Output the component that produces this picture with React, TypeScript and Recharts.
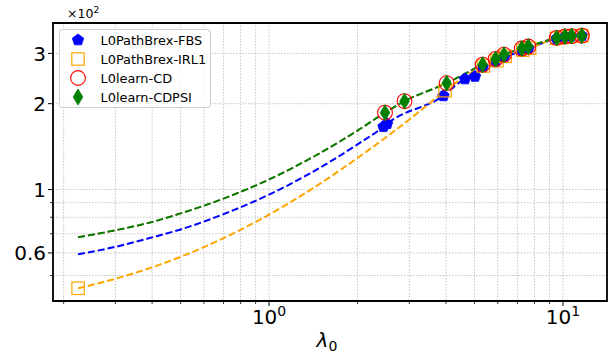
import React from 'react';
import {
  ComposedChart,
  Line,
  Scatter,
  XAxis,
  YAxis,
  CartesianGrid,
  Legend,
  ReferenceArea,
} from 'recharts';

const FONT = '"DejaVu Sans", "Liberation Sans", sans-serif';

// ---- series names ----
const SERIES_NAMES = ['L0PathBrex-FBS', 'L0PathBrex-IRL1', 'L0learn-CD', 'L0learn-CDPSI'];
const SERIES_COLORS = ['#0000ff', '#ffa500', '#ff0000', '#008000'];
const SERIES_LINE_WIDTHS = [2, 2, 1.4, 2];

// ---- dashed paths: λ0 and value (×10²) ----
const FBS_PATH_LAMBDA = [0.224, 0.3, 0.4, 0.5, 0.7, 1.0, 1.4, 2.0, 2.45, 2.52, 3.92, 4.64, 5.02, 5.33, 5.9, 6.3, 7.24, 7.62, 9.52, 10.16, 10.7, 11.6];
const FBS_PATH_VALUE = [0.593, 0.63, 0.68, 0.725, 0.82, 0.96, 1.15, 1.44, 1.66, 1.7, 2.13, 2.44, 2.49, 2.68, 2.8, 2.9, 3.06, 3.12, 3.38, 3.43, 3.45, 3.46];

const IRL1_PATH_LAMBDA = [0.224, 0.3, 0.4, 0.5, 0.7, 1.0, 1.4, 2.0, 2.5, 3.0, 3.5, 3.97, 5.36, 5.96, 6.36, 7.3, 7.7, 9.52, 10.16, 10.7, 11.6];
const IRL1_PATH_VALUE = [0.451, 0.487, 0.534, 0.581, 0.676, 0.817, 1.006, 1.29, 1.525, 1.76, 2.0, 2.22, 2.71, 2.83, 2.93, 3.08, 3.13, 3.39, 3.43, 3.45, 3.46];

const CD_PATH_LAMBDA = [0.224, 0.3, 0.4, 0.5, 0.7, 1.0, 1.4, 2.0, 2.48, 2.89, 4.02, 5.33, 5.9, 6.3, 7.24, 7.62, 9.52, 10.16, 10.7, 11.6];
const CD_PATH_VALUE = [0.681, 0.72, 0.77, 0.825, 0.93, 1.085, 1.295, 1.61, 1.86, 2.04, 2.36, 2.74, 2.87, 2.97, 3.12, 3.17, 3.4, 3.44, 3.45, 3.46];

const CDPSI_PATH_LAMBDA = [0.224, 0.3, 0.4, 0.5, 0.7, 1.0, 1.4, 2.0, 2.48, 2.89, 4.02, 5.33, 5.9, 6.3, 7.24, 7.62, 9.52, 10.16, 10.7, 11.6];
const CDPSI_PATH_VALUE = [0.681, 0.72, 0.77, 0.825, 0.93, 1.085, 1.295, 1.61, 1.86, 2.04, 2.36, 2.74, 2.87, 2.97, 3.12, 3.17, 3.4, 3.44, 3.45, 3.46];

// ---- markers ----
const FBS_MARK_LAMBDA = [2.45, 2.52, 3.92, 4.64, 5.02, 5.33, 5.9, 6.3, 7.24, 7.62, 9.52, 10.16, 10.7, 11.6];
const FBS_MARK_VALUE = [1.66, 1.7, 2.13, 2.44, 2.49, 2.68, 2.8, 2.9, 3.06, 3.12, 3.38, 3.43, 3.45, 3.46];

const IRL1_MARK_LAMBDA = [0.224, 3.97, 5.36, 5.96, 6.36, 7.3, 7.7, 9.52, 10.16, 10.7, 11.6];
const IRL1_MARK_VALUE = [0.451, 2.22, 2.71, 2.83, 2.93, 3.08, 3.13, 3.39, 3.43, 3.45, 3.46];

const CD_MARK_LAMBDA = [2.48, 2.89, 4.02, 5.33, 5.9, 6.3, 7.24, 7.62, 9.52, 10.16, 10.7, 11.6];
const CD_MARK_VALUE = [1.86, 2.04, 2.36, 2.74, 2.87, 2.97, 3.12, 3.17, 3.4, 3.44, 3.45, 3.46];

const CDPSI_MARK_LAMBDA = [2.48, 2.89, 4.02, 5.33, 5.9, 6.3, 7.24, 7.62, 9.52, 10.16, 10.7, 11.6];
const CDPSI_MARK_VALUE = [1.86, 2.04, 2.36, 2.74, 2.87, 2.97, 3.12, 3.17, 3.4, 3.44, 3.45, 3.46];

// ---- axes ----
const X_DOMAIN = [0.184, 14.12];
const Y_DOMAIN = [0.407, 3.834];
const X_TICKS = [0.2, 0.3, 0.4, 0.5, 0.6, 0.7, 0.8, 0.9, 1, 2, 3, 4, 5, 6, 7, 8, 9, 10];
const X_MAJOR = [1, 10];
const X_MAJOR_EXP = ['0', '1'];
const Y_TICKS = [0.5, 0.6, 0.7, 0.8, 0.9, 1, 2, 3];
const Y_LABELED = [0.6, 1, 2, 3];
const Y_LABEL_TEXT = ['0.6', '1', '2', '3'];
const Y_MULTIPLIER_EXP = '2';
const X_LABEL_MAIN = 'λ';
const X_LABEL_SUB = '0';

const zip = (xs: number[], ys: number[]) => xs.map((x, i) => ({ x, y: ys[i] }));

// ---- marker shapes ----
const pentagonPoints = (cx: number, cy: number, r: number) => {
  const pts: string[] = [];
  for (let i = 0; i < 5; i++) {
    const a = -Math.PI / 2 + (i * 2 * Math.PI) / 5;
    pts.push(`${cx + r * Math.cos(a)},${cy + r * Math.sin(a)}`);
  }
  return pts.join(' ');
};

const Marker = ({ kind, cx, cy }: { kind: number; cx: number; cy: number }) => {
  if (cx == null || cy == null || isNaN(cx) || isNaN(cy)) return null;
  if (kind === 0) return <polygon points={pentagonPoints(cx, cy, 6)} fill="#0000ff" stroke="#0000ff" strokeWidth={0.8} />;
  if (kind === 1) return <rect x={cx - 6.2} y={cy - 6.2} width={12.4} height={12.4} fill="none" stroke="#ffa500" strokeWidth={1.2} />;
  if (kind === 2) return <circle cx={cx} cy={cy} r={7.4} fill="none" stroke="#ff0000" strokeWidth={1.1} />;
  return (
    <polygon
      points={`${cx},${cy - 8} ${cx + 4.8},${cy} ${cx},${cy + 8} ${cx - 4.8},${cy}`}
      fill="#008000"
      stroke="#008000"
      strokeWidth={0.8}
    />
  );
};

const XTick = (props: any) => {
  const { x, y, payload } = props;
  const v = payload.value;
  const idx = X_MAJOR.indexOf(v);
  const major = idx >= 0;
  return (
    <g>
      <line x1={x} x2={x} y1={y} y2={y + (major ? 5 : 3)} stroke="#000" strokeWidth={major ? 1 : 0.8} />
      {major && (
        <text x={x} y={y + 23} textAnchor="middle" fontSize={20} fontFamily={FONT} fill="#000">
          10
          <tspan fontSize={14} dy={-8}>
            {X_MAJOR_EXP[idx]}
          </tspan>
        </text>
      )}
    </g>
  );
};

const YTick = (props: any) => {
  const { x, y, payload } = props;
  const v = payload.value;
  const idx = Y_LABELED.indexOf(v);
  const major = idx >= 0;
  return (
    <g>
      <line x1={x - (major ? 5 : 3)} x2={x} y1={y} y2={y} stroke="#000" strokeWidth={major ? 1 : 0.8} />
      {major && (
        <text x={x - 7} y={y + 7.3} textAnchor="end" fontSize={20} fontFamily={FONT} fill="#000">
          {Y_LABEL_TEXT[idx]}
        </text>
      )}
    </g>
  );
};

const LegendBox = () => (
  <svg width={153} height={80} style={{ display: 'block', overflow: 'visible' }}>
    <rect x={0.5} y={0.5} width={151} height={78} rx={3} ry={3} fill="rgba(255,255,255,0.8)" stroke="#cccccc" strokeWidth={1} />
    {SERIES_NAMES.map((name, i) => {
      const ry = 11 + i * 19;
      return (
        <g key={name}>
          <Marker kind={i} cx={19} cy={ry} />
          <text x={41.5} y={ry + 4.7} fontSize={12.9} fontFamily={FONT} fill="#000">
            {name}
          </text>
        </g>
      );
    })}
  </svg>
);

export default function App() {
  const paths = [
    zip(FBS_PATH_LAMBDA, FBS_PATH_VALUE),
    zip(IRL1_PATH_LAMBDA, IRL1_PATH_VALUE),
    zip(CD_PATH_LAMBDA, CD_PATH_VALUE),
    zip(CDPSI_PATH_LAMBDA, CDPSI_PATH_VALUE),
  ];
  const marks = [
    zip(FBS_MARK_LAMBDA, FBS_MARK_VALUE),
    zip(IRL1_MARK_LAMBDA, IRL1_MARK_VALUE),
    zip(CD_MARK_LAMBDA, CD_MARK_VALUE),
    zip(CDPSI_MARK_LAMBDA, CDPSI_MARK_VALUE),
  ];

  return (
    <div style={{ position: 'absolute', left: 0, top: 0, width: 613, height: 354, background: '#fff' }}>
      <ComposedChart width={613} height={354} margin={{ top: 23, right: 6, bottom: 0, left: 0 }}>
        <CartesianGrid stroke="#b8b8b8" strokeWidth={0.8} strokeDasharray="1.5 1.5" />
        <XAxis
          type="number"
          dataKey="x"
          scale="log"
          domain={X_DOMAIN}
          allowDataOverflow
          ticks={X_TICKS}
          interval={0}
          height={53}
          axisLine={false}
          tickLine={false}
          tickSize={0}
          tickMargin={0}
          tick={(p: any) => <XTick {...p} />}
          label={{
            content: (lp: any) => {
              const vb = lp.viewBox;
              return (
                <text x={vb.x + vb.width / 2 - 3} y={vb.y + 46} textAnchor="middle" fontFamily={FONT} fontSize={20} fill="#000">
                  <tspan fontStyle="italic">{X_LABEL_MAIN}</tspan>
                  <tspan fontSize={14} dy={4}>{X_LABEL_SUB}</tspan>
                </text>
              );
            },
          }}
        />
        <YAxis
          type="number"
          dataKey="y"
          scale="log"
          domain={Y_DOMAIN}
          allowDataOverflow
          ticks={Y_TICKS}
          interval={0}
          width={53}
          axisLine={false}
          tickLine={false}
          tickSize={0}
          tickMargin={0}
          tick={(p: any) => <YTick {...p} />}
          label={{
            content: (lp: any) => {
              const vb = lp.viewBox;
              return (
                <text x={vb.x + vb.width + 14} y={vb.y - 5} fontFamily={FONT} fontSize={12.5} fill="#000">
                  ×10
                  <tspan fontSize={9} dy={-5}>{Y_MULTIPLIER_EXP}</tspan>
                </text>
              );
            },
          }}
        />
        {SERIES_NAMES.map((name, i) => [
          <Line
            key={name + '-line'}
            data={paths[i]}
            dataKey="y"
            type="monotone"
            stroke={SERIES_COLORS[i]}
            strokeWidth={SERIES_LINE_WIDTHS[i]}
            strokeDasharray="7 3"
            dot={false}
            activeDot={false}
            isAnimationActive={false}
            legendType="none"
          />,
          <Scatter
            key={name + '-mark'}
            name={name}
            data={marks[i]}
            dataKey="y"
            isAnimationActive={false}
            shape={(sp: any) => <Marker kind={i} cx={sp.cx} cy={sp.cy} />}
          />,
        ])}
        <ReferenceArea
          x1={X_DOMAIN[0]}
          x2={X_DOMAIN[1]}
          y1={Y_DOMAIN[0]}
          y2={Y_DOMAIN[1]}
          ifOverflow="visible"
          fill="none"
          fillOpacity={0}
          stroke="#000"
          strokeWidth={1.8}
        />
        <Legend
          layout="vertical"
          align="center"
          verticalAlign="middle"
          content={() => <LegendBox />}
          wrapperStyle={{ left: 59, top: 29, width: 153, height: 80, position: 'absolute' }}
        />
      </ComposedChart>
    </div>
  );
}
